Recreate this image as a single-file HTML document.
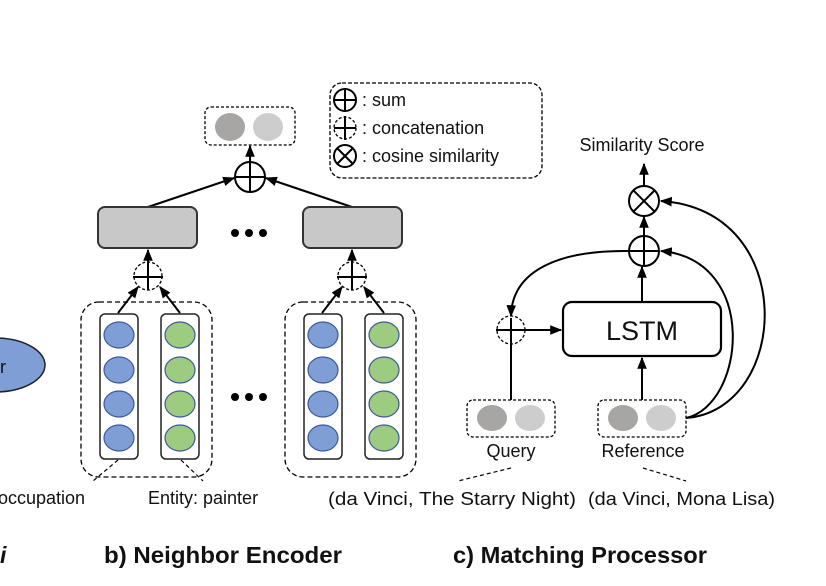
<!DOCTYPE html>
<html><head><style>body{margin:0;background:#fff}svg{display:block}text{font-family:"Liberation Sans","DejaVu Sans",sans-serif;fill:#111}</style></head><body>
<svg width="826" height="586" viewBox="0 0 826 586" xmlns="http://www.w3.org/2000/svg">
<defs><marker id="a" viewBox="0 0 10 10" refX="9" refY="5" markerWidth="6" markerHeight="6" orient="auto"><path d="M0,1 L10,5 L0,9 z" fill="#000"/></marker></defs>
<g stroke="#000" stroke-width="2" fill="none">
<ellipse cx="-5" cy="365" rx="50" ry="27" fill="#7f9ed6" stroke="#222" stroke-width="1.5"/>
<rect x="205" y="107" width="90" height="38" rx="6" stroke-dasharray="3,2" stroke-width="1.3"/>
<ellipse cx="230" cy="127" rx="15" ry="14" fill="#a8a5a5" stroke="none"/>
<ellipse cx="268" cy="127" rx="15" ry="14" fill="#cdcdcd" stroke="none"/>
<circle cx="250" cy="177" r="15"/><line x1="235" y1="177" x2="265" y2="177"/><line x1="250" y1="162" x2="250" y2="192"/>
<line x1="250" y1="162" x2="250" y2="146" marker-end="url(#a)"/>
<line x1="148" y1="207" x2="234" y2="178" marker-end="url(#a)"/>
<line x1="352" y1="207" x2="266" y2="178" marker-end="url(#a)"/>
<rect x="98" y="207" width="99" height="41" rx="7" fill="#c8c8c8" stroke="#333"/>
<rect x="303" y="207" width="99" height="41" rx="7" fill="#c8c8c8" stroke="#333"/>
<circle cx="148" cy="276" r="14" stroke-dasharray="3,2" stroke-width="1.3"/><line x1="133" y1="277" x2="163" y2="277"/><line x1="148" y1="290" x2="148" y2="250" marker-end="url(#a)"/>
<circle cx="352" cy="276" r="14" stroke-dasharray="3,2" stroke-width="1.3"/><line x1="337" y1="277" x2="367" y2="277"/><line x1="352" y1="290" x2="352" y2="250" marker-end="url(#a)"/>
<line x1="118" y1="313" x2="138" y2="287" marker-end="url(#a)"/><line x1="180" y1="313" x2="160" y2="287" marker-end="url(#a)"/>
<line x1="322" y1="313" x2="342" y2="287" marker-end="url(#a)"/><line x1="384" y1="313" x2="364" y2="287" marker-end="url(#a)"/>
<rect x="81" y="302" width="131" height="175" rx="18" stroke-dasharray="5,3" stroke-width="1.3"/>
<rect x="285" y="302" width="131" height="175" rx="18" stroke-dasharray="5,3" stroke-width="1.3"/>
<rect x="100" y="314" width="38" height="145" rx="5" fill="#fff" stroke="#222" stroke-width="1.5"/>
<rect x="161" y="314" width="38" height="145" rx="5" fill="#fff" stroke="#222" stroke-width="1.5"/>
<rect x="304" y="314" width="38" height="145" rx="5" fill="#fff" stroke="#222" stroke-width="1.5"/>
<rect x="365" y="314" width="38" height="145" rx="5" fill="#fff" stroke="#222" stroke-width="1.5"/>
<g stroke="#3d5a9a" stroke-width="1.2" fill="#7f9ed6">
<ellipse cx="119" cy="335" rx="15" ry="13"/><ellipse cx="119" cy="370" rx="15" ry="13"/><ellipse cx="119" cy="404" rx="15" ry="13"/><ellipse cx="119" cy="438" rx="15" ry="13"/>
<ellipse cx="323" cy="335" rx="15" ry="13"/><ellipse cx="323" cy="370" rx="15" ry="13"/><ellipse cx="323" cy="404" rx="15" ry="13"/><ellipse cx="323" cy="438" rx="15" ry="13"/>
</g>
<g stroke="#3d5a9a" stroke-width="1.2" fill="#9dcb80">
<ellipse cx="180" cy="335" rx="15" ry="13"/><ellipse cx="180" cy="370" rx="15" ry="13"/><ellipse cx="180" cy="404" rx="15" ry="13"/><ellipse cx="180" cy="438" rx="15" ry="13"/>
<ellipse cx="384" cy="335" rx="15" ry="13"/><ellipse cx="384" cy="370" rx="15" ry="13"/><ellipse cx="384" cy="404" rx="15" ry="13"/><ellipse cx="384" cy="438" rx="15" ry="13"/>
</g>
<line x1="118" y1="460" x2="93" y2="481" stroke-dasharray="4,3" stroke-width="1.2"/>
<line x1="181" y1="460" x2="203" y2="481" stroke-dasharray="4,3" stroke-width="1.2"/>
<rect x="330" y="83" width="212" height="95" rx="12" stroke-dasharray="4,2" stroke-width="1.3"/>
<circle cx="345" cy="100" r="11"/><line x1="334" y1="100" x2="356" y2="100"/><line x1="345" y1="89" x2="345" y2="111"/>
<circle cx="345" cy="128" r="11" stroke-dasharray="3,2" stroke-width="1.3"/><line x1="334" y1="128" x2="356" y2="128"/><line x1="345" y1="116" x2="345" y2="140"/>
<circle cx="345" cy="156" r="11"/><line x1="337" y1="148" x2="353" y2="164"/><line x1="353" y1="148" x2="337" y2="164"/>
<circle cx="644" cy="201" r="15"/><line x1="633" y1="190" x2="655" y2="212"/><line x1="655" y1="190" x2="633" y2="212"/>
<line x1="644" y1="186" x2="644" y2="164" marker-end="url(#a)"/>
<circle cx="644" cy="251" r="15"/><line x1="629" y1="251" x2="659" y2="251"/><line x1="644" y1="236" x2="644" y2="266"/>
<line x1="644" y1="236" x2="644" y2="217" marker-end="url(#a)"/>
<rect x="563" y="302" width="158" height="54" rx="9" stroke-width="2.2"/>
<line x1="642" y1="302" x2="642" y2="267" marker-end="url(#a)"/>
<circle cx="511" cy="330" r="14" stroke-dasharray="3,2" stroke-width="1.3"/><line x1="496" y1="330" x2="526" y2="330"/>
<line x1="511" y1="400" x2="511" y2="318"/>
<line x1="526" y1="330" x2="561" y2="330" marker-end="url(#a)"/>
<path d="M629,251 C560,250 512,270 511,316" marker-end="url(#a)"/>
<line x1="642" y1="400" x2="642" y2="358" marker-end="url(#a)"/>
<path d="M686,418 C745,405 760,260 661,251" marker-end="url(#a)"/>
<path d="M686,418 C790,410 800,210 661,201" marker-end="url(#a)"/>
<rect x="467" y="400" width="88" height="37" rx="6" stroke-dasharray="3,2" stroke-width="1.3" fill="#fff"/>
<ellipse cx="492" cy="418" rx="15" ry="13" fill="#a8a5a5" stroke="none"/><ellipse cx="530" cy="418" rx="15" ry="13" fill="#cdcdcd" stroke="none"/>
<rect x="598" y="400" width="88" height="37" rx="6" stroke-dasharray="3,2" stroke-width="1.3" fill="#fff"/>
<ellipse cx="623" cy="418" rx="15" ry="13" fill="#a8a5a5" stroke="none"/><ellipse cx="661" cy="418" rx="15" ry="13" fill="#cdcdcd" stroke="none"/>
<line x1="511" y1="468" x2="458" y2="481" stroke-dasharray="4,3" stroke-width="1.2"/>
<line x1="643" y1="468" x2="686" y2="481" stroke-dasharray="4,3" stroke-width="1.2"/>
</g>
<g fill="#000"><circle cx="235" cy="233" r="4"/><circle cx="249" cy="233" r="4"/><circle cx="263" cy="233" r="4"/>
<circle cx="235" cy="397" r="4"/><circle cx="249" cy="397" r="4"/><circle cx="263" cy="397" r="4"/></g>
<g font-size="18">
<text x="0" y="373">r</text>
<text x="362" y="106">: sum</text>
<text x="362" y="134">: concatenation</text>
<text x="362" y="162">: cosine similarity</text>
<text x="642" y="151" text-anchor="middle">Similarity Score</text>
<text x="511" y="457" text-anchor="middle">Query</text>
<text x="643" y="457" text-anchor="middle">Reference</text>
<text x="-2" y="504">occupation</text>
<text x="148" y="504">Entity: painter</text>
<text x="328" y="505" textLength="248" lengthAdjust="spacingAndGlyphs">(da Vinci,  The Starry Night)</text>
<text x="588" y="505" textLength="187" lengthAdjust="spacingAndGlyphs">(da Vinci, Mona Lisa)</text>
</g>
<text x="642" y="340" text-anchor="middle" font-size="27">LSTM</text>
<g font-size="23" font-weight="bold">
<text x="0" y="563" font-style="italic">i</text>
<text x="104" y="563" textLength="238" lengthAdjust="spacingAndGlyphs">b) Neighbor Encoder</text>
<text x="453" y="563" textLength="254" lengthAdjust="spacingAndGlyphs">c) Matching Processor</text>
</g>
</svg>
</body></html>
